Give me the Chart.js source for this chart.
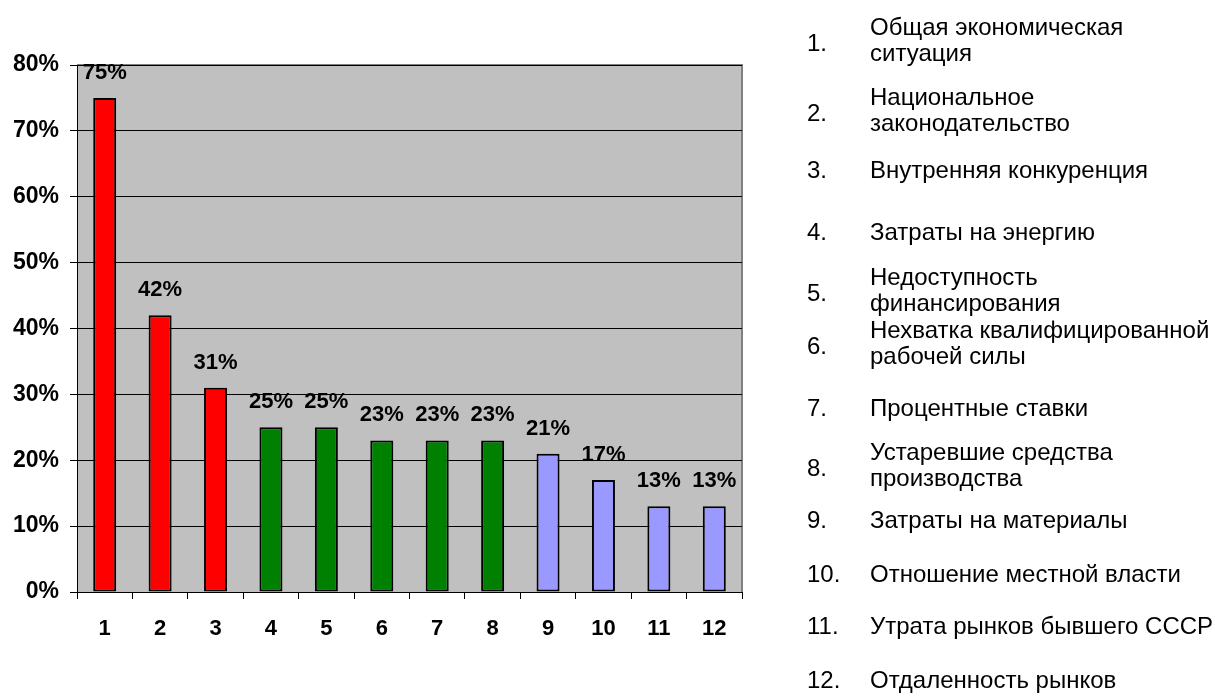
<!DOCTYPE html>
<html>
<head>
<meta charset="utf-8">
<script src="https://cdn.jsdelivr.net/npm/chart.js@4.4.0/dist/chart.umd.min.js"></script>
<style>
  html, body { margin: 0; padding: 0; background: #fff; }
  #wrap { position: relative; width: 1215px; height: 697px; }
  #chartBox { position: absolute; left: 0; top: 0; width: 760px; height: 697px; }
  #legend { position: absolute; left: 0; top: 0; width: 1215px; height: 697px; pointer-events: none;
    font-family: Arial, "Liberation Sans", sans-serif; font-size: 24px; color: #000; }
  .item { position: absolute; left: 807px; display: flex; align-items: center; transform: translateY(-50%); white-space: nowrap; }
  .num { width: 63px; }
  .two .num { padding-top: 6px; }
  .txt { line-height: 26px; }
</style>
</head>
<body>
<div id="wrap">
  <div id="chartBox"><canvas id="chart"></canvas></div>
  <div id="legend"></div>
</div>
<script>
const categories = ['1', '2', '3', '4', '5', '6', '7', '8', '9', '10', '11', '12'];
const shares = [75, 42, 31, 25, 25, 23, 23, 23, 21, 17, 13, 13];
const groups = ['red', 'red', 'red', 'green', 'green', 'green', 'green', 'green', 'blue', 'blue', 'blue', 'blue'];
const yTicks = [0, 10, 20, 30, 40, 50, 60, 70, 80];
const factors = [
  ['Общая экономическая', 'ситуация'],
  ['Национальное', 'законодательство'],
  ['Внутренняя конкуренция'],
  ['Затраты на энергию'],
  ['Недоступность', 'финансирования'],
  ['Нехватка квалифицированной', 'рабочей силы'],
  ['Процентные ставки'],
  ['Устаревшие средства', 'производства'],
  ['Затраты на материалы'],
  ['Отношение местной власти'],
  ['Утрата рынков бывшего СССР'],
  ['Отдаленность рынков']
];

const groupColors = { red: '#FF0000', green: '#008000', blue: '#9999FF' };
const legendY = [40, 110, 170, 232, 290, 343, 408, 465, 520, 574, 626, 680];
const FONT = 'Arial, "Liberation Sans", sans-serif';

// legend list on the right
document.getElementById('legend').innerHTML = factors.map((lines, i) => `
  <div class="item${lines.length > 1 ? ' two' : ''}" style="top:${legendY[i]}px">
    <div class="num">${i + 1}.</div>
    <div class="txt">${lines.join('<br>')}</div>
  </div>`).join('');

const plotBg = {
  id: 'plotBg',
  beforeDraw(chart) {
    const { ctx, chartArea: a } = chart;
    ctx.save();
    ctx.fillStyle = '#C0C0C0';
    ctx.fillRect(a.left, a.top, a.right - a.left, a.bottom - a.top);
    ctx.strokeStyle = '#808080';
    ctx.lineWidth = 2;
    ctx.beginPath();
    ctx.moveTo(a.left, a.top);
    ctx.lineTo(a.right, a.top);
    ctx.lineTo(a.right, a.bottom);
    ctx.stroke();
    ctx.restore();
  }
};

const valueLabels = {
  id: 'valueLabels',
  afterDatasetsDraw(chart) {
    const { ctx } = chart;
    const meta = chart.getDatasetMeta(0);
    ctx.save();
    ctx.font = 'bold 22px ' + FONT;
    ctx.fillStyle = '#000';
    ctx.textAlign = 'center';
    ctx.textBaseline = 'alphabetic';
    meta.data.forEach((bar, i) => {
      ctx.fillText(shares[i] + '%', bar.x, bar.y - 19);
    });
    ctx.restore();
  }
};

new Chart(document.getElementById('chart'), {
  type: 'bar',
  data: {
    labels: categories,
    datasets: [{
      data: shares,
      backgroundColor: groups.map(g => groupColors[g]),
      borderColor: '#000',
      borderWidth: 2,
      borderSkipped: false,
      categoryPercentage: 1,
      barPercentage: 0.415
    }]
  },
  options: {
    responsive: true,
    maintainAspectRatio: false,
    animation: false,
    layout: { padding: { top: 65, right: 18, left: 0, bottom: 0 } },
    plugins: { legend: { display: false }, tooltip: { enabled: false } },
    scales: {
      x: {
        grid: { drawOnChartArea: false, color: '#000', tickLength: 7, offset: true },
        border: { color: '#000', width: 1 },
        ticks: { color: '#000', padding: 17, font: { family: FONT, size: 22, weight: 'bold' } },
        afterFit(scale) { scale.height = 105; }
      },
      y: {
        min: 0,
        max: 80,
        afterBuildTicks(scale) { scale.ticks = yTicks.map(v => ({ value: v })); },
        grid: { color: '#000', lineWidth: 1, tickLength: 7 },
        border: { color: '#000', width: 1 },
        ticks: {
          color: '#000',
          padding: 11,
          font: { family: FONT, size: 23, weight: 'bold' },
          callback: v => v + '%'
        },
        afterFit(scale) { scale.width = 77; }
      }
    }
  },
  plugins: [plotBg, valueLabels]
});
</script>
</body>
</html>
